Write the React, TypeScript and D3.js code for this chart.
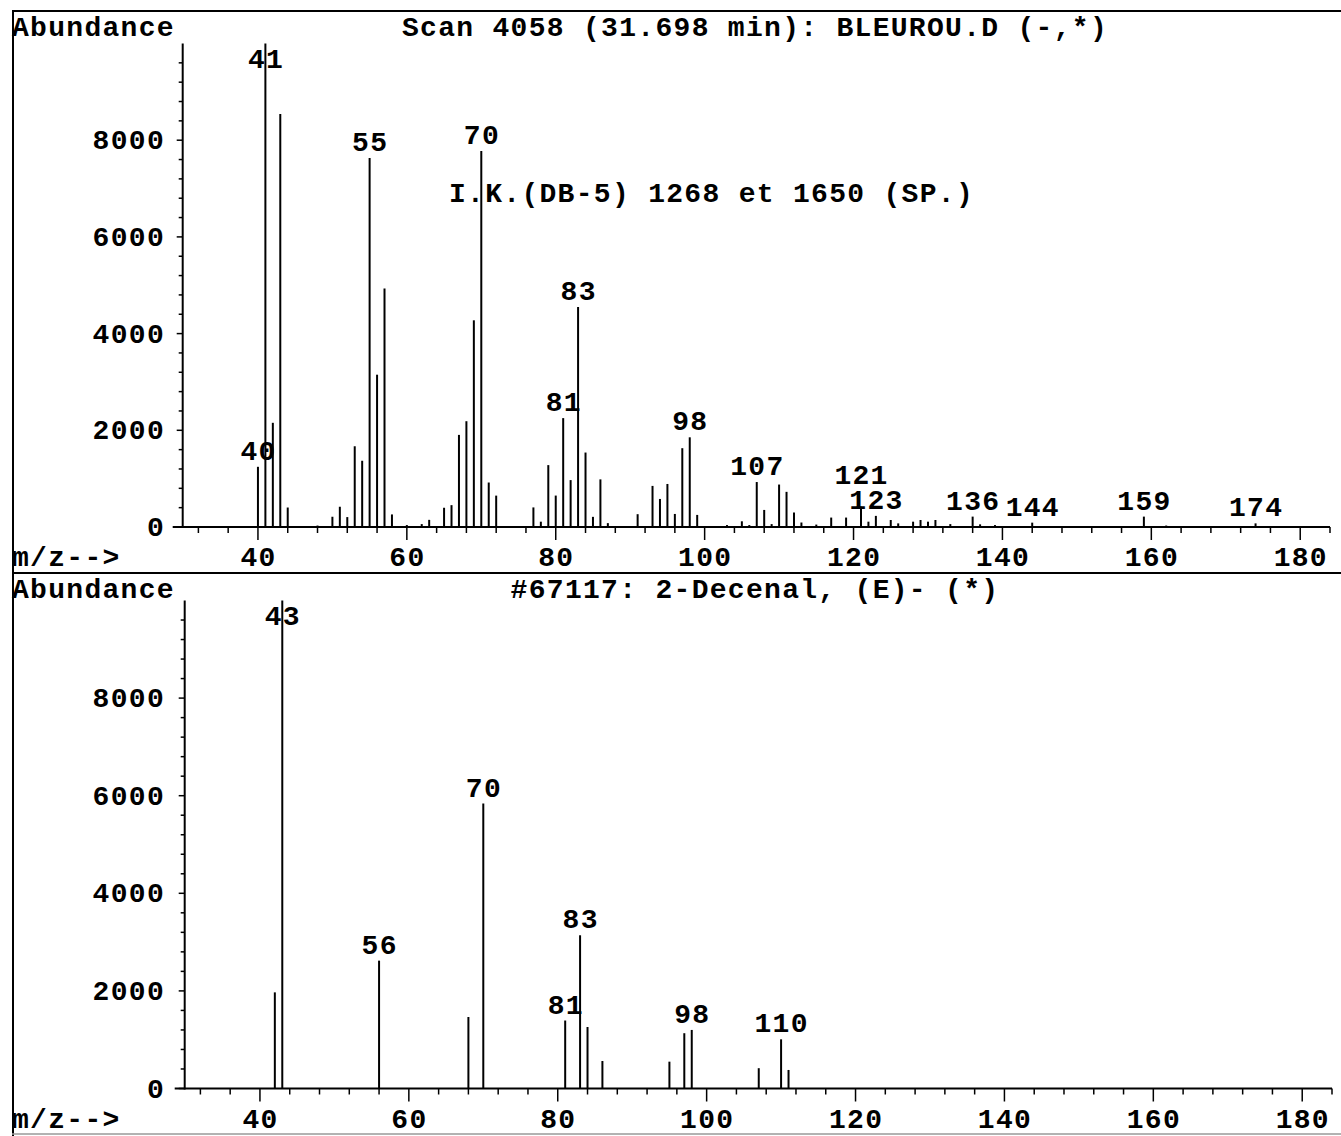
import React from "react";
import * as d3 from "d3";

// ---- Data ----
const topMz = [40, 41, 42, 43, 44, 48, 50, 51, 52, 53, 54, 55, 56, 57, 58, 60, 62, 63, 65, 66, 67, 68, 69, 70, 71, 72, 77, 78, 79, 80, 81, 82, 83, 84, 85, 86, 87, 91, 93, 94, 95, 96, 97, 98, 99, 103, 105, 106, 107, 108, 109, 110, 111, 112, 113, 115, 117, 119, 121, 122, 123, 125, 126, 128, 129, 130, 131, 133, 136, 137, 139, 144, 159, 162, 174];
const topAbund = [1245, 10000, 2155, 8544, 403, 30, 212, 419, 205, 1670, 1370, 7633, 3150, 4933, 260, 40, 60, 148, 398, 452, 1905, 2188, 4275, 7778, 920, 649, 405, 110, 1280, 650, 2252, 970, 4550, 1540, 210, 985, 80, 265, 850, 580, 890, 270, 1630, 1855, 250, 40, 118, 40, 930, 353, 60, 878, 727, 300, 93, 50, 195, 195, 420, 110, 230, 145, 75, 110, 145, 110, 145, 60, 215, 55, 40, 90, 215, 30, 75];
const topLabels = [40, 41, 55, 70, 81, 83, 98, 107, 121, 123, 136, 144, 159, 174];

const botMz = [42, 43, 56, 68, 70, 81, 83, 84, 86, 95, 97, 98, 107, 110, 111];
const botAbund = [1970, 10000, 2620, 1465, 5838, 1393, 3140, 1260, 563, 550, 1133, 1200, 416, 1008, 380];
const botLabels = [43, 56, 70, 81, 83, 98, 110];

const xMajorTicks = [40, 60, 80, 100, 120, 140, 160, 180];
const yMajorTicks = [0, 2000, 4000, 6000, 8000];

const topTitle = "Scan 4058 (31.698 min): BLEUROU.D (-,*)";
const topNote = "I.K.(DB-5) 1268 et 1650 (SP.)";
const botTitle = "#67117: 2-Decenal, (E)- (*)";
const yAxisTitle = "Abundance";
const xAxisTitle = "m/z-->";

// ---- Styling ----
const FONT = "'Liberation Mono', 'DejaVu Sans Mono', monospace";
const textStyle: React.CSSProperties = {
  fontFamily: FONT,
  fontWeight: 700,
  fontSize: 28,
  letterSpacing: 1.3,
};

type PanelProps = {
  mz: number[];
  abund: number[];
  labels: number[];
  title: string;
  note?: string;
  y0: number; // pixel of abundance 0
  y1: number; // pixel of abundance 10000
  xShift: number;
  headerY: number;
};

function Panel({ mz, abund, labels, title, note, y0, y1, xShift, headerY }: PanelProps) {
  const x = d3.scaleLinear().domain([30, 184]).range([183.5 + xShift, 1330 + xShift]);
  const y = d3.scaleLinear().domain([0, 10000]).range([y0, y1]);

  const minorX = d3.range(32, 185, 4).filter((m) => !xMajorTicks.includes(m));
  const minorY = d3.range(400, 10000, 400).filter((v) => v % 2000 !== 0);

  type Lab = { m: number; x: number; cy: number; w: number };
  const placed: Lab[] = [];
  const sorted = [...labels].sort((a, b) => a - b);
  for (const m of sorted) {
    const i = mz.indexOf(m);
    if (i < 0) continue;
    const top = y(abund[i]);
    const cy = Math.max(top - 16, y1 + 15);
    const txt = String(m);
    const w = txt.length * 18.1 - 4;
    const lab: Lab = { m, x: x(m), cy, w };
    const prev = placed[placed.length - 1];
    if (prev) {
      const overlapX = Math.abs(prev.x - lab.x) < (prev.w + lab.w) / 2;
      const overlapY = Math.abs(prev.cy - lab.cy) < 19;
      if (overlapX && overlapY) prev.cy = lab.cy - 25;
    }
    placed.push(lab);
  }

  const axisLeft = x(30) - 0.8;

  return (
    <g>
      <text x={12} y={headerY} style={textStyle}>{yAxisTitle}</text>
      <text x={755} y={headerY} textAnchor="middle" style={textStyle}>{title}</text>
      {note && (
        <text x={449} y={202} style={textStyle}>{note}</text>
      )}

      {/* y axis */}
      <line x1={axisLeft} x2={axisLeft} y1={y0 + 1} y2={y(10000)} stroke="#000" strokeWidth={2} />
      {minorY.map((v) => (
        <line key={"my" + v} x1={axisLeft - 4} x2={axisLeft} y1={y(v)} y2={y(v)} stroke="#000" strokeWidth={1.5} />
      ))}
      {yMajorTicks.map((v) => (
        <g key={"Y" + v}>
          <line x1={axisLeft - 6} x2={axisLeft} y1={y(v)} y2={y(v)} stroke="#000" strokeWidth={1.5} />
          <text x={165} y={y(v) + 9} textAnchor="end" style={textStyle}>{v}</text>
        </g>
      ))}

      {/* x axis */}
      <line x1={axisLeft - 10} x2={x(184)} y1={y0} y2={y0} stroke="#000" strokeWidth={2} />
      {minorX.map((m) => (
        <line key={"mx" + m} x1={x(m)} x2={x(m)} y1={y0} y2={y0 + 6} stroke="#000" strokeWidth={1.5} />
      ))}
      {xMajorTicks.map((m) => (
        <g key={"X" + m}>
          <line x1={x(m)} x2={x(m)} y1={y0} y2={y0 + 13} stroke="#000" strokeWidth={1.5} />
          <text x={x(m) + 0.6} y={y0 + 39} textAnchor="middle" style={textStyle}>{m}</text>
        </g>
      ))}
      <text x={12} y={y0 + 39} style={textStyle}>{xAxisTitle}</text>

      {/* peaks */}
      {mz.map((m, i) => (
        <line key={"p" + m} x1={x(m)} x2={x(m)} y1={y0} y2={y(abund[i])} stroke="#000" strokeWidth={2} />
      ))}

      {/* peak labels */}
      {placed.map((l) => (
        <text key={"l" + l.m} x={l.x + 0.6} y={l.cy + 9} textAnchor="middle" style={textStyle}>{l.m}</text>
      ))}
    </g>
  );
}

export default function App() {
  return (
    <svg width={1341} height={1136} style={{ display: "block", position: "absolute", left: 0, top: 0, background: "#fff" }}>
      <rect x={0} y={0} width={1341} height={1136} fill="#fff" />
      {/* frame */}
      <line x1={13} x2={13} y1={10} y2={1136} stroke="#000" strokeWidth={2} />
      <line x1={12} x2={1341} y1={11} y2={11} stroke="#000" strokeWidth={2} />
      <line x1={12} x2={1341} y1={573} y2={573} stroke="#000" strokeWidth={2} />
      <line x1={12} x2={1341} y1={1134} y2={1134} stroke="#999" strokeWidth={1.5} />

      <Panel
        mz={topMz}
        abund={topAbund}
        labels={topLabels}
        title={topTitle}
        note={topNote}
        y0={527}
        y1={43.5}
        xShift={0}
        headerY={36}
      />
      <Panel
        mz={botMz}
        abund={botAbund}
        labels={botLabels}
        title={botTitle}
        y0={1088.5}
        y1={600.5}
        xShift={2}
        headerY={598}
      />
    </svg>
  );
}
